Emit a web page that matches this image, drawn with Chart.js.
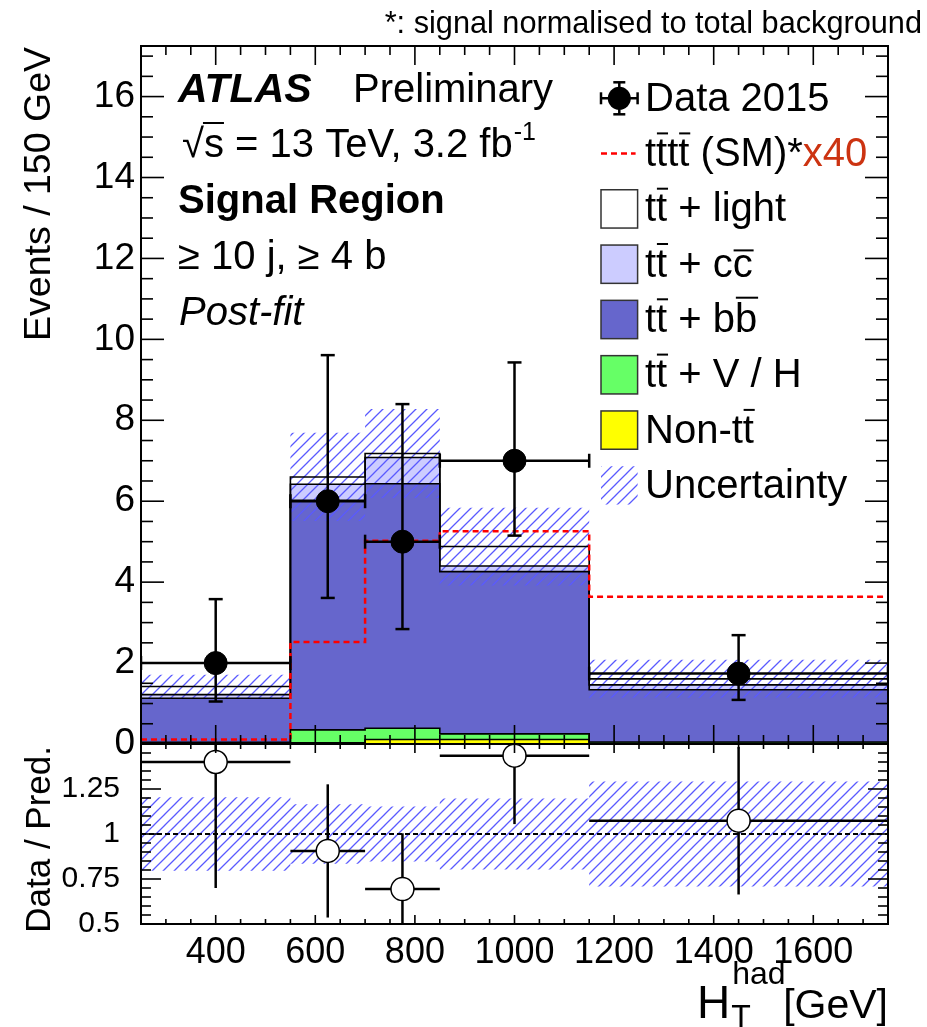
<!DOCTYPE html>
<html><head><meta charset="utf-8"><title>ATLAS Preliminary - HT had Signal Region</title>
<script src="https://cdn.jsdelivr.net/npm/chart.js@4.4.1/dist/chart.umd.min.js"></script>
<style>
html,body{margin:0;padding:0;background:#fff;}
#wrap{position:relative;width:927px;height:1027px;overflow:hidden;background:#fff;}
#wrap canvas{position:absolute;left:0;top:0;width:927px;height:1027px;}
</style></head><body>
<div id="wrap"><canvas id="mainCanvas" width="927" height="1027"></canvas><canvas id="ratioCanvas" width="927" height="1027"></canvas></div>
<script>
// ---------------- data ----------------
const xEdges   = [250, 550, 700, 850, 1150, 1750];     // H_T^had bin edges [GeV]
const xCenters = [400, 625, 775, 1000, 1450];
const nonTtbar = [0.02, 0.03, 0.11, 0.11, 0.02];
const ttVH     = [0.02, 0.32, 0.28, 0.14, 0.03];
const ttbb     = [1.09, 5.67, 6.04, 4.01, 1.29];
const ttcc     = [0.09, 0.40, 0.65, 0.14, 0.12];
const ttlight  = [0.20, 0.18, 0.10, 0.48, 0.15];
const ttttSMx40 = [0.11, 2.52, 5.02, 5.26, 3.64];
const dataY     = [2.00, 6.00, 5.00, 7.00, 1.74];
const dataErrHi = [1.58, 3.61, 3.40, 2.43, 0.95];
const dataErrLo = [0.95, 2.39, 2.16, 1.85, 0.65];
const bkgUnc    = [0.29, 1.09, 1.10, 0.96, 0.47];
const ratioY    = [1.40, 0.906, 0.694, 1.435, 1.074];
const ratioErr  = [0.70, 0.37, 0.31, 0.38, 0.41];
const xTickLabels     = [400, 600, 800, 1000, 1200, 1400, 1600];
const yTickLabels     = [0, 2, 4, 6, 8, 10, 12, 14, 16];
const ratioTickLabels = [0.5, 0.75, 1, 1.25];

// ---------------- helpers ----------------
const FONT = '"Liberation Sans", Arial, Helvetica, sans-serif';
Chart.defaults.font.family = FONT;

function makeHatch(color, s) {
  const c = document.createElement('canvas'); c.width = s; c.height = s;
  const g = c.getContext('2d');
  g.strokeStyle = color; g.lineWidth = 1.3;
  g.beginPath();
  g.moveTo(0, s); g.lineTo(s, 0);
  g.moveTo(-s/2, s/2); g.lineTo(s/2, -s/2);
  g.moveTo(s/2, s*1.5); g.lineTo(s*1.5, s/2);
  g.stroke();
  return g.createPattern(c, 'repeat');
}
const hatch = makeHatch('rgba(90,90,255,1)', 11);

const stepPts = vals => xEdges.map((x, i) => ({x, y: vals[Math.min(i, vals.length - 1)]}));

// cumulative stack (bottom -> top)
const cum = []; let run = [0, 0, 0, 0, 0];
[nonTtbar, ttVH, ttbb, ttcc, ttlight].forEach(arr => { run = run.map((r, i) => r + arr[i]); cum.push(run); });
const total = cum[4];

function line(ctx, x1, y1, x2, y2) { ctx.beginPath(); ctx.moveTo(x1, y1); ctx.lineTo(x2, y2); ctx.stroke(); }

// draw text; a char followed by U+0305 gets an overline
function drawRich(ctx, x, y, str, size) {
  let i = 0;
  while (i < str.length) {
    const ch = str[i];
    const barred = str[i + 1] === '\u0305';
    const w = ctx.measureText(ch).width;
    ctx.fillText(ch, x, y);
    if (barred) {
      const h = ch === 'c' ? 0.68 : (ch === 'b' ? 0.88 : 0.84);
      ctx.fillRect(x + 0.02 * size, y - h * size, w, Math.max(1.6, 0.05 * size));
      i += 2;
    } else i += 1;
    x += w;
  }
  return x;
}

function drawFrameTicks(chart, yID, cfg) {
  const ctx = chart.ctx, a = chart.chartArea;
  const xs = chart.scales.x, ys = chart.scales[yID];
  ctx.save();
  ctx.strokeStyle = '#000'; ctx.lineWidth = 1.6; ctx.lineCap = 'butt';
  for (let v = 300; v <= 1700; v += 50) {
    const major = xTickLabels.includes(v);
    const len = major ? cfg.xMajor : cfg.xMinor;
    const px = xs.getPixelForValue(v);
    line(ctx, px, a.bottom, px, a.bottom - len);
    line(ctx, px, a.top, px, a.top + len);
  }
  for (let k = 0; ; k++) {
    const v = cfg.yMin + k * cfg.yMinorStep;
    if (v > cfg.yMax + 1e-9) break;
    const major = Math.abs(v / cfg.yMajorStep - Math.round(v / cfg.yMajorStep)) < 1e-6;
    const len = major ? cfg.yMajor : cfg.yMinor;
    const py = ys.getPixelForValue(v);
    line(ctx, a.left, py, a.left + len, py);
    line(ctx, a.right, py, a.right - len, py);
  }
  ctx.lineWidth = 2;
  ctx.strokeRect(a.left, a.top, a.right - a.left, a.bottom - a.top);
  ctx.restore();
}

function errorBarPlugin(id, yID, pts, caps) {
  return {
    id,
    beforeDatasetDraw(chart, args) {
      if (args.index !== 0) return;
      const ctx = chart.ctx, a = chart.chartArea, xs = chart.scales.x, ys = chart.scales[yID];
      ctx.save();
      ctx.beginPath(); ctx.rect(a.left, a.top, a.right - a.left, a.bottom - a.top); ctx.clip();
      ctx.strokeStyle = '#000'; ctx.lineWidth = 2.5;
      pts.forEach(p => {
        const cx = xs.getPixelForValue(p.x), cy = ys.getPixelForValue(p.y);
        const xl = xs.getPixelForValue(p.xl), xh = xs.getPixelForValue(p.xh);
        const yl = ys.getPixelForValue(p.yl), yh = ys.getPixelForValue(p.yh);
        line(ctx, xl, cy, xh, cy);
        line(ctx, cx, yl, cx, yh);
        if (caps) {
          line(ctx, cx - 7, yl, cx + 7, yl); line(ctx, cx - 7, yh, cx + 7, yh);
          line(ctx, xl, cy - 7, xl, cy + 7); line(ctx, xh, cy - 7, xh, cy + 7);
        }
      });
      ctx.restore();
    }
  };
}

const mainErr = xCenters.map((x, i) => ({x, y: dataY[i], xl: xEdges[i], xh: xEdges[i + 1], yl: dataY[i] - dataErrLo[i], yh: dataY[i] + dataErrHi[i]}));
const ratioErrPts = xCenters.map((x, i) => ({x, y: ratioY[i], xl: xEdges[i], xh: xEdges[i + 1], yl: ratioY[i] - ratioErr[i], yh: ratioY[i] + ratioErr[i]}));

const mainDecor = {
  id: 'mainDecor',
  afterDraw(chart) {
    drawFrameTicks(chart, 'y', {xMajor: 19, xMinor: 9, yMin: 0, yMax: 17.25, yMinorStep: 0.5, yMajorStep: 2, yMajor: 23, yMinor: 12});
    const ctx = chart.ctx;
    ctx.save();
    ctx.fillStyle = '#000'; ctx.textBaseline = 'alphabetic'; ctx.textAlign = 'left';
    ctx.font = '30.7px ' + FONT; ctx.textAlign = 'right';
    ctx.fillText('*: signal normalised to total background', 922, 33);
    ctx.textAlign = 'left';
    ctx.font = 'italic bold 41px ' + FONT; ctx.fillText('ATLAS', 178, 102);
    ctx.font = '40px ' + FONT; ctx.fillText('Preliminary', 353, 102);
    ctx.font = '40px ' + FONT;
    const sq = ctx.measureText('\u221A').width;
    ctx.fillText('\u221As = 13 TeV, 3.2 fb', 182, 157);
    const sw = ctx.measureText('s').width;
    ctx.fillRect(182 + sq - 1, 122, sw + 1, 2);
    const w1 = ctx.measureText('\u221As = 13 TeV, 3.2 fb').width;
    ctx.font = '25px ' + FONT; ctx.fillText('-1', 182 + w1 + 1, 140);
    ctx.font = 'bold 40px ' + FONT; ctx.fillText('Signal Region', 178, 213);
    ctx.font = '40px ' + FONT; ctx.fillText('\u2265 10 j, \u2265 4 b', 178, 269);
    ctx.font = 'italic 40px ' + FONT; ctx.fillText('Post-fit', 179, 325);
    ctx.save();
    ctx.font = '37.5px ' + FONT; ctx.translate(50, 47); ctx.rotate(-Math.PI / 2);
    ctx.textAlign = 'right'; ctx.fillText('Events / 150 GeV', 0, 0);
    ctx.restore();
    const lx = 601, lw = 36.6, tx = 645, y0 = 98.3, dy = 55.3, bh = 38.3;
    const rowC = i => y0 + i * dy, rowB = i => y0 + i * dy + 12.4;
    ctx.font = '40px ' + FONT;
    ctx.strokeStyle = '#000'; ctx.lineWidth = 2.5;
    const dcx = lx + lw / 2, dcy = rowC(0);
    line(ctx, lx, dcy, lx + lw, dcy); line(ctx, dcx, dcy - 16, dcx, dcy + 16);
    line(ctx, lx, dcy - 6, lx, dcy + 6); line(ctx, lx + lw, dcy - 6, lx + lw, dcy + 6);
    line(ctx, dcx - 6, dcy - 16, dcx + 6, dcy - 16); line(ctx, dcx - 6, dcy + 16, dcx + 6, dcy + 16);
    ctx.beginPath(); ctx.arc(dcx, dcy, 11.5, 0, Math.PI * 2); ctx.fill();
    ctx.fillText('Data 2015', tx, rowB(0));
    ctx.save(); ctx.strokeStyle = '#ff0000'; ctx.lineWidth = 2.5; ctx.setLineDash([6, 4]);
    line(ctx, lx, rowC(1), lx + lw - 2, rowC(1)); ctx.restore();
    let ex = drawRich(ctx, tx, rowB(1), 'tt\u0305tt\u0305', 40);
    ex = drawRich(ctx, ex, rowB(1), ' (SM)*', 40);
    ctx.fillStyle = '#cc3311'; ctx.fillText('x40', ex, rowB(1)); ctx.fillStyle = '#000';
    const boxes = [
      ['tt\u0305 + light', '#ffffff'],
      ['tt\u0305 + cc\u0305', '#ccccff'],
      ['tt\u0305 + bb\u0305', '#6666cc'],
      ['tt\u0305 + V / H', '#66ff66'],
      ['Non-tt\u0305', '#ffff00']
    ];
    boxes.forEach((b, k) => {
      const i = k + 2;
      ctx.fillStyle = b[1]; ctx.fillRect(lx, rowC(i) - bh / 2, lw, bh);
      ctx.strokeStyle = '#333'; ctx.lineWidth = 1.5; ctx.strokeRect(lx, rowC(i) - bh / 2, lw, bh);
      ctx.fillStyle = '#000'; drawRich(ctx, tx, rowB(i), b[0], 40);
    });
    ctx.fillStyle = hatch; ctx.fillRect(lx, rowC(7) - bh / 2, lw, bh);
    ctx.fillStyle = '#000'; ctx.fillText('Uncertainty', tx, rowB(7));
    ctx.restore();
  }
};

const ratioDecor = {
  id: 'ratioDecor',
  afterDraw(chart) {
    drawFrameTicks(chart, 'y', {xMajor: 9, xMinor: 5, yMin: 0.5, yMax: 1.5, yMinorStep: 0.05, yMajorStep: 0.25, yMajor: 20, yMinor: 10});
    const ctx = chart.ctx;
    ctx.save(); ctx.fillStyle = '#000'; ctx.textBaseline = 'alphabetic';
    ctx.save();
    ctx.font = '35px ' + FONT; ctx.translate(50, 746); ctx.rotate(-Math.PI / 2);
    ctx.textAlign = 'right'; ctx.fillText('Data / Pred.', 0, 0);
    ctx.restore();
    // x title: H_T^had [GeV]
    ctx.textAlign = 'right'; ctx.font = '41px ' + FONT;
    ctx.fillText('[GeV]', 888, 1018);
    ctx.textAlign = 'left';
    ctx.font = '46px ' + FONT; ctx.fillText('H', 697, 1018);
    const Hw = ctx.measureText('H').width;
    ctx.font = '32px ' + FONT;
    ctx.fillText('had', 697 + Hw + 2, 984);
    ctx.fillText('T', 697 + Hw + 1, 1027);
    ctx.restore();
  }
};

const common = {
  responsive: false, animation: false, events: [],
  plugins: { legend: {display: false}, tooltip: {enabled: false}, filler: {drawTime: 'beforeDatasetsDraw'} }
};
const stepDs = (vals, extra) => Object.assign({data: stepPts(vals), stepped: true, pointRadius: 0, borderColor: '#000', borderWidth: 1.6, fill: false}, extra);

new Chart(document.getElementById('mainCanvas'), {
  type: 'line',
  data: { datasets: [
    {label: 'Data 2015', type: 'scatter', data: xCenters.map((x, i) => ({x, y: dataY[i]})), pointRadius: 11.5, pointBackgroundColor: '#000', pointBorderColor: '#000', showLine: false},
    stepDs(ttttSMx40, {label: 'tttt (SM)*x40', borderColor: '#ff0000', borderWidth: 2.5, borderDash: [6, 4]}),
    stepDs(total.map((t, i) => t + bkgUnc[i]), {label: 'Uncertainty', borderColor: 'rgba(0,0,0,0)', fill: '+1', backgroundColor: hatch}),
    stepDs(total.map((t, i) => t - bkgUnc[i]), {label: 'unc low', borderColor: 'rgba(0,0,0,0)'}),
    stepDs(cum[4], {label: 'tt+light', fill: '+1', backgroundColor: '#ffffff'}),
    stepDs(cum[3], {label: 'tt+cc', fill: '+1', backgroundColor: '#ccccff'}),
    stepDs(cum[2], {label: 'tt+bb', fill: '+1', backgroundColor: '#6666cc'}),
    stepDs(cum[1], {label: 'tt+V/H', fill: '+1', backgroundColor: '#66ff66'}),
    stepDs(cum[0], {label: 'Non-tt', fill: 'origin', backgroundColor: '#ffff00'})
  ]},
  options: Object.assign({}, common, {
    layout: {padding: {top: 46, bottom: 283, left: 0, right: 39}},
    scales: {
      x: {type: 'linear', min: 250, max: 1750, display: false},
      y: {type: 'linear', min: 0, max: 17.25,
          afterFit: s => { s.width = 141; },
          afterBuildTicks: s => { s.ticks = yTickLabels.map(v => ({value: v})); },
          ticks: {font: {size: 37}, color: '#000', padding: 6, callback: v => String(v)},
          grid: {display: false, drawTicks: false}, border: {display: false}}
    }
  }),
  plugins: [errorBarPlugin('mainErr', 'y', mainErr, true), mainDecor]
});

new Chart(document.getElementById('ratioCanvas'), {
  type: 'line',
  data: { datasets: [
    {label: 'Data/Pred', type: 'scatter', data: xCenters.map((x, i) => ({x, y: ratioY[i]})), pointRadius: 11.5, pointBackgroundColor: '#fff', pointBorderColor: '#000', pointBorderWidth: 1.5, showLine: false},
    {label: 'unity', data: [{x: 250, y: 1}, {x: 1750, y: 1}], borderColor: '#000', borderWidth: 2.2, borderDash: [5, 3], pointRadius: 0, fill: false},
    stepDs(total.map((t, i) => 1 + bkgUnc[i] / t), {label: 'band up', borderColor: 'rgba(0,0,0,0)', fill: '+1', backgroundColor: hatch}),
    stepDs(total.map((t, i) => 1 - bkgUnc[i] / t), {label: 'band low', borderColor: 'rgba(0,0,0,0)'})
  ]},
  options: Object.assign({}, common, {
    layout: {padding: {top: 744, bottom: 43, left: 0, right: 39}},
    scales: {
      x: {type: 'linear', min: 250, max: 1750,
          afterFit: s => { s.height = 60; },
          afterBuildTicks: s => { s.ticks = xTickLabels.map(v => ({value: v})); },
          ticks: {font: {size: 36}, color: '#000', padding: 7, autoSkip: false, maxRotation: 0, callback: v => String(v)},
          grid: {display: false, drawTicks: false}, border: {display: false}},
      y: {type: 'linear', min: 0.5, max: 1.5,
          afterFit: s => { s.width = 141; },
          afterBuildTicks: s => { s.ticks = ratioTickLabels.map(v => ({value: v})); },
          ticks: {font: {size: 30}, color: '#000', padding: 21, callback: v => String(v)},
          grid: {display: false, drawTicks: false}, border: {display: false}}
    }
  }),
  plugins: [errorBarPlugin('ratioErr', 'y', ratioErrPts, false), ratioDecor]
});
</script>
</body></html>
